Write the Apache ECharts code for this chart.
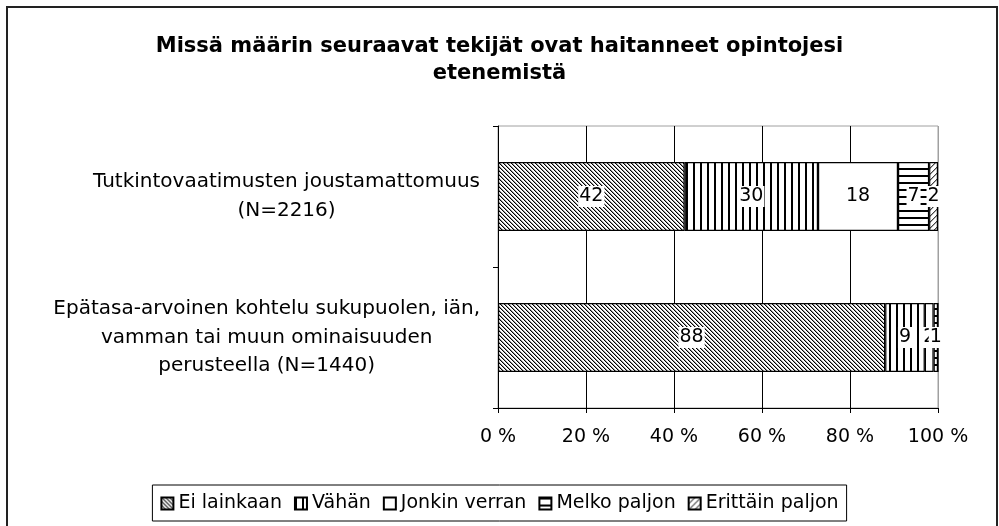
<!DOCTYPE html>
<html>
<head>
<meta charset="utf-8">
<script src="https://cdn.jsdelivr.net/npm/echarts@6/dist/echarts.min.js"></script>
<style>
  html, body { margin: 0; padding: 0; background: #fff; }
  #chart { width: 999px; height: 526px; }
</style>
</head>
<body>
<div id="chart"></div>
<script>
  // rivit (kategoriat) ylhäältä alas
  const categories = [
    'Tutkintovaatimusten joustamattomuus\n(N=2216)',
    'Epätasa-arvoinen kohtelu sukupuolen, iän,\nvamman tai muun ominaisuuden\nperusteella (N=1440)'
  ]
  const seriesNames = ['Ei lainkaan', 'Vähän', 'Jonkin verran', 'Melko paljon', 'Erittäin paljon']
  const eiLainkaan     = [42, 88]
  const vahan          = [30, 9]
  const jonkinVerran   = [18, 2]
  const melkoPaljon    = [7, 1]
  const erittainPaljon = [2, 0]
  const xTicks = [0, 20, 40, 60, 80, 100]

  const allValues = [eiLainkaan, vahan, jonkinVerran, melkoPaljon, erittainPaljon]
  const rowTotals = categories.map((c, i) => allValues.reduce((s, arr) => s + arr[i], 0))

  const FONT = '"DejaVu Sans", "Liberation Sans", Arial, sans-serif'

  // kuviotäytöt kuten Excelissä
  function makePattern(kind) {
    let size = 6
    if (kind === 'vert' || kind === 'horiz') size = 7
    if (kind === 'back') size = 4
    let c = document.createElement('canvas')
    c.width = size; c.height = size
    let ctx = c.getContext('2d')
    ctx.fillStyle = '#fff'
    ctx.fillRect(0, 0, size, size)
    if (kind === 'back') {
      for (let i = 0; i < size; i++) {
        ctx.fillStyle = '#000'
        ctx.fillRect(i, i, 1, 1)
        ctx.fillStyle = '#9a9a9a'
        ctx.fillRect((i + 1) % size, i, 1, 1)
      }
    } else if (kind === 'vert') {
      ctx.fillStyle = '#000'
      ctx.fillRect(0, 0, 2, size)
    } else if (kind === 'horiz') {
      ctx.fillStyle = '#000'
      ctx.fillRect(0, 0, size, 2)
    } else if (kind === 'fwd') {
      for (let i = 0; i < size; i++) {
        ctx.fillStyle = '#444'
        ctx.fillRect(size - 1 - i, i, 1, 1)
        ctx.fillStyle = '#aaa'
        ctx.fillRect((size - i) % size, i, 1, 1)
      }
    }
    return { image: c, repeat: 'repeat' }
  }

  const fills = [makePattern('back'), makePattern('vert'), '#ffffff', makePattern('horiz'), makePattern('fwd')]

  let series = seriesNames.map((name, s) => ({
    name: name,
    type: 'bar',
    stack: 'total',
    barWidth: '49%',
    itemStyle: { color: fills[s], borderColor: '#000', borderWidth: 1.2 },
    label: {
      show: true,
      position: 'inside',
      color: '#000',
      fontFamily: FONT,
      fontSize: 19,
      backgroundColor: '#fff',
      padding: [2, 1, 0, 1],
      formatter: p => String(p.data.raw)
    },
    data: allValues[s].map((v, i) => ({
      value: v / rowTotals[i] * 100,
      raw: v,
      label: { show: v > 0 }
    }))
  }))

  let myChart = echarts.init(document.getElementById('chart'))
  myChart.setOption({
    animation: false,
    backgroundColor: '#fff',
    title: {
      text: 'Missä määrin seuraavat tekijät ovat haitanneet opintojesi\netenemistä',
      left: 'center',
      top: 28,
      textStyle: { fontFamily: FONT, fontSize: 21, fontWeight: 'bold', color: '#000', lineHeight: 27 }
    },
    graphic: [{
      type: 'rect',
      shape: { x: 7, y: 7, width: 990, height: 530 },
      style: { fill: 'none', stroke: '#222', lineWidth: 2 },
      silent: true
    }],
    legend: {
      data: seriesNames,
      bottom: 5,
      left: 'center',
      icon: 'rect',
      itemWidth: 12,
      itemHeight: 12,
      itemGap: 12,
      padding: [9, 8, 8, 8],
      borderColor: '#000',
      borderWidth: 1,
      textStyle: { fontFamily: FONT, fontSize: 19, color: '#000' }
    },
    grid: {
      left: 498, right: 61, top: 126, bottom: 118,
      show: true, borderColor: '#a0a0a0', borderWidth: 1
    },
    xAxis: {
      type: 'value',
      min: 0, max: 100, interval: 20,
      axisLine: { show: true, lineStyle: { color: '#000', width: 1 } },
      axisTick: { show: true, length: 5, lineStyle: { color: '#000' } },
      axisLabel: {
        margin: 20,
        color: '#000',
        fontFamily: FONT,
        fontSize: 19,
        formatter: v => xTicks.indexOf(v) >= 0 ? v + ' %' : ''
      },
      splitLine: { show: true, lineStyle: { color: ['#000', '#000', '#000', '#000', '#000', '#a0a0a0'], width: 1 } }
    },
    yAxis: {
      type: 'category',
      inverse: true,
      data: categories,
      axisLine: { show: true, lineStyle: { color: '#000', width: 1 } },
      axisTick: { show: true, length: 5, lineStyle: { color: '#000' } },
      axisLabel: {
        margin: 18,
        formatter: v => v.split('\n').map(l => '{c|' + l + '}').join('\n'),
        rich: {
          c: { align: 'center', fontFamily: FONT, fontSize: 20, lineHeight: 28.5, color: '#000' }
        }
      }
    },
    series: series
  })
</script>
</body>
</html>
